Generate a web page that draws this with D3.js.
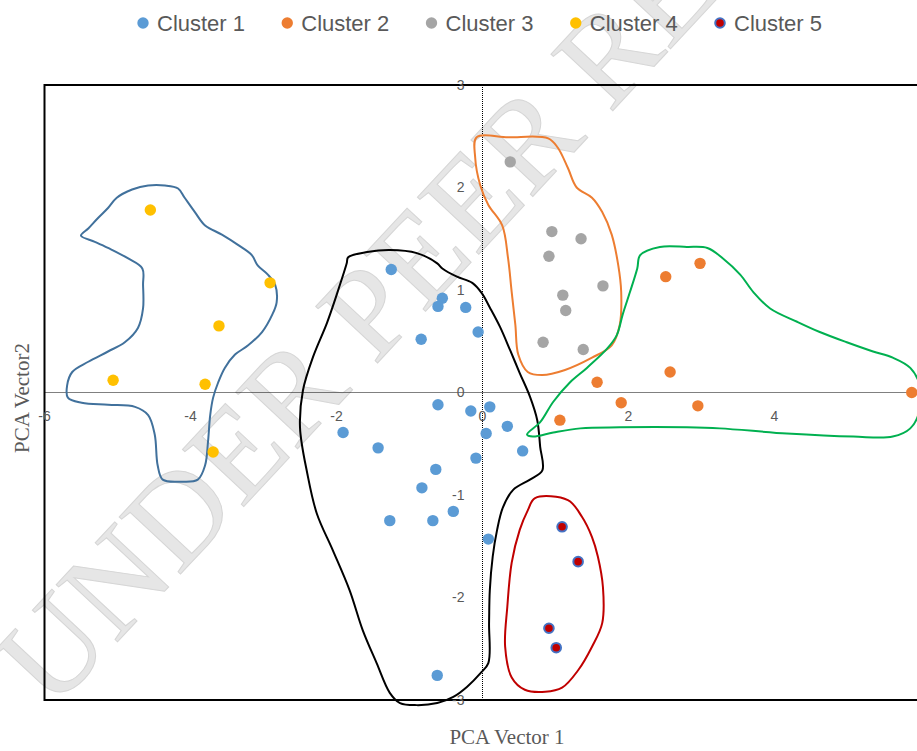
<!DOCTYPE html>
<html><head><meta charset="utf-8">
<script src="https://cdn.jsdelivr.net/npm/d3@7/dist/d3.min.js"></script>
<style>body{margin:0;background:#fff;overflow:hidden}svg{display:block}</style>
</head><body>
<script>
// ---------- data ----------
const seriesNames = ["Cluster 1","Cluster 2","Cluster 3","Cluster 4","Cluster 5"];
const cluster1 = [[-1.25,1.20],[-0.55,0.92],[-0.61,0.84],[-0.23,0.83],[-0.84,0.52],[-0.06,0.59],
  [-0.61,-0.12],[-0.16,-0.18],[0.10,-0.14],[0.05,-0.40],[0.34,-0.33],[-1.91,-0.39],[-1.43,-0.54],
  [0.55,-0.57],[-0.09,-0.64],[-0.64,-0.75],[-0.83,-0.93],[-1.27,-1.25],[-0.68,-1.25],[-0.40,-1.16],
  [0.08,-1.43],[-0.62,-2.76]];
const cluster2 = [[2.51,1.13],[2.98,1.26],[1.57,0.10],[2.57,0.20],[1.90,-0.10],[2.95,-0.13],[1.06,-0.27],[5.88,0.00]];
const cluster3 = [[0.38,2.25],[0.95,1.57],[1.35,1.50],[0.91,1.33],[1.65,1.04],[1.10,0.95],[1.14,0.80],[0.83,0.49],[1.38,0.42]];
const cluster4 = [[-4.55,1.78],[-2.91,1.07],[-3.61,0.65],[-5.06,0.12],[-3.80,0.08],[-3.69,-0.58]];
const cluster5 = [[1.09,-1.31],[1.31,-1.65],[0.91,-2.30],[1.01,-2.49]];

const xTicks = [-6,-4,-2,0,2,4,6];
const yTicks = [-3,-2,-1,0,1,2,3];

// hand-drawn enclosing outlines (data units)
const outlineBlue = [[-5.50,1.53],[-5.40,1.60],[-5.27,1.70],[-5.13,1.80],[-5.01,1.90],[-4.80,1.98],[-4.58,2.02],
  [-4.35,2.02],[-4.17,1.99],[-4.08,1.90],[-3.94,1.76],[-3.80,1.63],[-3.57,1.54],[-3.35,1.44],[-3.16,1.34],
  [-3.08,1.24],[-2.94,1.15],[-2.84,1.05],[-2.82,0.88],[-2.88,0.76],[-3.02,0.59],[-3.21,0.46],[-3.39,0.37],
  [-3.53,0.24],[-3.62,0.10],[-3.69,-0.05],[-3.73,-0.22],[-3.76,-0.48],[-3.80,-0.71],[-3.90,-0.85],[-4.12,-0.87],
  [-4.38,-0.85],[-4.45,-0.71],[-4.49,-0.41],[-4.58,-0.22],[-4.76,-0.14],[-5.13,-0.12],[-5.49,-0.10],[-5.68,-0.05],
  [-5.69,0.07],[-5.62,0.20],[-5.40,0.30],[-5.13,0.40],[-4.90,0.49],[-4.72,0.63],[-4.65,0.82],[-4.65,1.05],
  [-4.66,1.21],[-4.86,1.31],[-5.13,1.41],[-5.31,1.47]];
const outlineBlack = [[-1.84,1.32],[-1.58,1.37],[-1.27,1.39],[-0.90,1.36],[-0.62,1.26],[-0.55,1.21],[-0.35,1.13],
  [-0.14,1.07],[-0.01,0.97],[0.10,0.83],[0.24,0.64],[0.38,0.41],[0.51,0.19],[0.65,-0.04],[0.75,-0.27],[0.79,-0.53],
  [0.82,-0.76],[0.65,-0.85],[0.42,-0.95],[0.28,-1.12],[0.20,-1.34],[0.14,-1.60],[0.10,-1.93],[0.09,-2.25],
  [0.08,-2.64],[-0.03,-2.74],[-0.21,-2.87],[-0.40,-2.97],[-0.62,-3.03],[-0.90,-3.05],[-1.13,-3.03],[-1.27,-2.93],
  [-1.45,-2.64],[-1.64,-2.32],[-1.82,-1.93],[-2.05,-1.54],[-2.27,-1.18],[-2.40,-0.79],[-2.50,-0.34],[-2.46,0.02],
  [-2.32,0.35],[-2.13,0.68],[-1.99,0.97],[-1.86,1.26]];
const outlineOrange = [[-0.08,2.49],[0.35,2.49],[0.90,2.48],[1.03,2.39],[1.17,2.19],[1.29,2.00],[1.50,1.90],
  [1.64,1.76],[1.77,1.54],[1.86,1.24],[1.90,0.98],[1.88,0.66],[1.77,0.46],[1.50,0.34],[1.13,0.22],[0.82,0.17],
  [0.62,0.20],[0.49,0.37],[0.45,0.66],[0.40,0.98],[0.35,1.31],[0.27,1.63],[0.08,1.83],[-0.03,2.02],[-0.10,2.29]];
const outlineGreen = [[0.61,-0.41],[0.79,-0.29],[0.97,-0.09],[1.20,0.10],[1.43,0.24],[1.71,0.43],[1.84,0.56],
  [1.92,0.76],[2.02,0.98],[2.12,1.21],[2.16,1.34],[2.43,1.42],[2.80,1.42],[3.08,1.41],[3.29,1.31],[3.53,1.15],
  [3.71,0.98],[3.94,0.82],[4.31,0.69],[4.62,0.59],[4.99,0.49],[5.35,0.40],[5.62,0.34],[5.86,0.24],[5.99,0.07],
  [5.99,-0.17],[5.86,-0.35],[5.62,-0.43],[5.08,-0.43],[4.17,-0.40],[3.25,-0.35],[2.80,-0.34],[1.88,-0.34],
  [1.34,-0.35],[0.97,-0.39],[0.69,-0.43]];
const outlineRed = [[0.72,-1.03],[1.17,-1.05],[1.36,-1.21],[1.50,-1.41],[1.58,-1.60],[1.65,-1.90],[1.64,-2.25],
  [1.50,-2.48],[1.31,-2.71],[1.09,-2.88],[0.86,-2.92],[0.58,-2.90],[0.40,-2.78],[0.31,-2.48],[0.34,-2.09],
  [0.40,-1.66],[0.51,-1.34],[0.62,-1.15]];

// ---------- drawing ----------
const W = 917, H = 751;
const svg = d3.select("body").append("svg").attr("width", W).attr("height", H);
const x = d3.scaleLinear().domain([-6, 6]).range([44.5, 920.5]);
const y = d3.scaleLinear().domain([-3, 3]).range([700, 85]);

// watermark
svg.append("text")
  .attr("transform", "translate(52,712) rotate(-47)")
  .attr("font-family", "'Liberation Serif','Times New Roman',serif")
  .attr("font-size", 128)
  .attr("fill", "#dedede").attr("stroke", "#c8c8c8").attr("stroke-width", 1)
  .attr("opacity", 0.75)
  .text("UNDER PEER REVIEW");

// frame
svg.append("rect").attr("x", x(-6)).attr("y", y(3)).attr("width", x(6) - x(-6)).attr("height", y(-3) - y(3))
  .attr("fill", "none").attr("stroke", "#000").attr("stroke-width", 2);

// zero axes (dotted)
svg.append("line").attr("x1", x(-6)).attr("x2", x(6)).attr("y1", y(0)).attr("y2", y(0))
  .attr("stroke", "#000").attr("stroke-width", 1).attr("stroke-dasharray", "1,1");
svg.append("line").attr("x1", x(0)).attr("x2", x(0)).attr("y1", y(3)).attr("y2", y(-3))
  .attr("stroke", "#000").attr("stroke-width", 1).attr("stroke-dasharray", "1,1");

const tickFont = "'Liberation Sans',Arial,sans-serif";
svg.append("g").selectAll("text").data(xTicks).join("text")
  .attr("x", d => x(d)).attr("y", y(0) + 25).attr("text-anchor", "middle").attr("dominant-baseline", "middle")
  .attr("font-family", tickFont).attr("font-size", 14).attr("fill", "#595959").text(d => d);
svg.append("g").selectAll("text").data(yTicks).join("text")
  .attr("x", x(0) - 18).attr("y", d => y(d) + 1).attr("text-anchor", "end").attr("dominant-baseline", "middle")
  .attr("font-family", tickFont).attr("font-size", 14).attr("fill", "#595959").text(d => d);

// outlines
const line = d3.line().x(d => x(d[0])).y(d => y(d[1])).curve(d3.curveCatmullRomClosed.alpha(0.5));
const outlines = [[outlineBlue, "#41719C"], [outlineBlack, "#000000"], [outlineOrange, "#ED7D31"],
  [outlineGreen, "#00B050"], [outlineRed, "#C00000"]];
svg.append("g").selectAll("path").data(outlines).join("path")
  .attr("d", d => line(d[0])).attr("fill", "none").attr("stroke", d => d[1]).attr("stroke-width", 2)
  .attr("stroke-linejoin", "round");

// points
const styles = [
  {fill: "#5B9BD5", stroke: "none"},
  {fill: "#ED7D31", stroke: "none"},
  {fill: "#A5A5A5", stroke: "none"},
  {fill: "#FFC000", stroke: "none"},
  {fill: "#C00000", stroke: "#4472C4"}];
const allSeries = [cluster1, cluster2, cluster3, cluster4, cluster5];
allSeries.forEach((s, i) => {
  svg.append("g").selectAll("circle").data(s).join("circle")
    .attr("cx", d => x(d[0])).attr("cy", d => y(d[1]))
    .attr("r", i === 4 ? 4.8 : 5.7)
    .attr("fill", styles[i].fill)
    .attr("stroke", styles[i].stroke).attr("stroke-width", i === 4 ? 2 : 0);
});

// axis titles
svg.append("text").attr("x", 507).attr("y", 744).attr("text-anchor", "middle")
  .attr("font-family", "'Liberation Serif','Times New Roman',serif").attr("font-size", 21).attr("fill", "#595959")
  .text("PCA Vector 1");
svg.append("text").attr("transform", "translate(29,398) rotate(-90)").attr("text-anchor", "middle")
  .attr("font-family", "'Liberation Serif','Times New Roman',serif").attr("font-size", 21).attr("fill", "#595959")
  .text("PCA Vector2");

// legend
const legendX = d3.scalePoint().domain(seriesNames).range([143, 720]);
const lg = svg.append("g").selectAll("g").data(seriesNames).join("g")
  .attr("transform", d => `translate(${legendX(d)},23)`);
lg.append("circle").attr("r", (d, i) => i === 4 ? 4.8 : 5.7)
  .attr("fill", (d, i) => styles[i].fill).attr("stroke", (d, i) => styles[i].stroke)
  .attr("stroke-width", (d, i) => i === 4 ? 2 : 0);
lg.append("text").attr("x", 14).attr("y", 0).attr("dominant-baseline", "central")
  .attr("font-family", tickFont).attr("font-size", 22).attr("fill", "#595959").text(d => d);
</script>
</body></html>
